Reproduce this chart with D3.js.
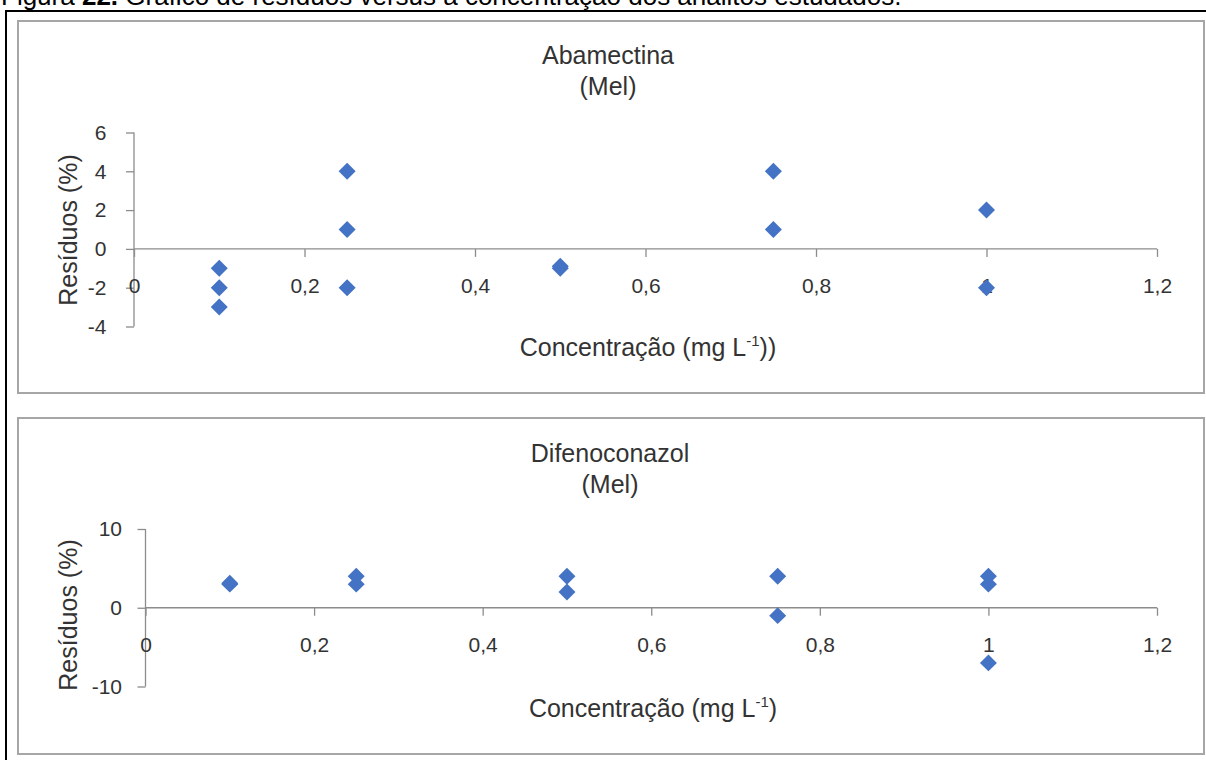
<!DOCTYPE html>
<html>
<head>
<meta charset="utf-8">
<script src="https://cdn.jsdelivr.net/npm/d3@7"></script>
<style>
  html, body { margin: 0; padding: 0; background: #fff; }
  svg { display: block; font-family: "Liberation Sans", Arial, sans-serif; }
</style>
</head>
<body>
<svg id="chart" width="1206" height="760"></svg>
<script>
// ---- data ----
const captionLead = "Figura ";
const captionNum = "22.";
const captionRest = " Gráfico de resíduos versus a concentração dos analitos estudados.";

const abaTitle = ["Abamectina", "(Mel)"];
const abaConc = [0.1, 0.1, 0.1, 0.25, 0.25, 0.25, 0.5, 0.5, 0.75, 0.75, 1, 1];
const abaResid = [-1, -2, -3, 4, 1, -2, -1, -0.9, 4, 1, 2, -2];
const abaYTicks = [-4, -2, 0, 2, 4, 6];
const abaXTitle = ["Concentração (mg L", "-1", "))"];

const difTitle = ["Difenoconazol", "(Mel)"];
const difConc = [0.1, 0.1, 0.25, 0.25, 0.5, 0.5, 0.75, 0.75, 1, 1, 1];
const difResid = [3, 3.1, 4, 3, 4, 2, 4, -1, 4, 3, -7];
const difYTicks = [-10, 0, 10];
const difXTitle = ["Concentração (mg L", "-1", ")"];

const xTicks = [0, 0.2, 0.4, 0.6, 0.8, 1, 1.2];
const yTitle = "Resíduos (%)";

// ---- drawing ----
const svg = d3.select("#chart");
const loc = d3.formatLocale({decimal: ",", thousands: ".", grouping: [3], currency: ["", ""], minus: "-"});
const fmt = loc.format("~g");
const textColor = "#333";
const axisColor = "#8c8c8c";
const markColor = "#4472C4";

// caption (partially cut at top, as in the reference)
const cap = svg.append("text").attr("x", 1).attr("y", 5)
  .attr("font-size", 26).attr("fill", "#000");
cap.append("tspan").text(captionLead);
cap.append("tspan").attr("font-weight", "bold").text(captionNum);
cap.append("tspan").text(captionRest);

// outer black frame (left + top)
svg.append("path").attr("d", "M6,760 V11 H1206")
  .attr("fill", "none").attr("stroke", "#000").attr("stroke-width", 2);

function panel(cfg) {
  const g = svg.append("g");
  g.append("rect").attr("x", cfg.box[0]).attr("y", cfg.box[1])
    .attr("width", cfg.box[2] - cfg.box[0]).attr("height", cfg.box[3] - cfg.box[1])
    .attr("fill", "#fff").attr("stroke", "#a6a6a6").attr("stroke-width", 2);

  const x = d3.scaleLinear().domain([0, 1.2]).range(cfg.xr);
  const y = d3.scaleLinear().domain(cfg.yd).range(cfg.yr);

  // title
  const t = g.append("text").attr("text-anchor", "middle").attr("font-size", 25).attr("fill", textColor);
  t.append("tspan").attr("x", cfg.titleX).attr("y", cfg.titleY).text(cfg.title[0]);
  t.append("tspan").attr("x", cfg.titleX).attr("y", cfg.titleY + 31).text(cfg.title[1]);

  // y axis
  const ya = g.append("g").attr("transform", `translate(${x(0)},0)`)
    .call(d3.axisLeft(y).tickValues(cfg.yTicks).tickSize(8).tickPadding(cfg.yPad).tickFormat(fmt));
  // x axis at y=0
  const xa = g.append("g").attr("transform", `translate(0,${y(0)})`)
    .call(d3.axisBottom(x).tickValues(xTicks).tickSize(8).tickPadding(21).tickFormat(fmt));

  [ya, xa].forEach(a => {
    a.select(".domain").attr("stroke", axisColor).attr("stroke-width", 1.3);
    a.selectAll(".tick line").attr("stroke", axisColor).attr("stroke-width", 1.3);
    a.selectAll(".tick text").attr("fill", textColor).attr("font-size", 21)
      .attr("font-family", "'Liberation Sans', Arial, sans-serif");
  });
  ya.select(".domain").attr("d", `M0,${y(cfg.yd[0])}V${y(cfg.yd[1])}`);
  xa.select(".domain").attr("d", `M${x(0)},0H${x(1.2)}`);

  // y title
  g.append("text").attr("transform", `translate(77,${cfg.yTitleY}) rotate(-90)`)
    .attr("text-anchor", "middle").attr("font-size", 25).attr("fill", textColor).text(yTitle);

  // x title
  const xt = g.append("text").attr("x", cfg.xTitleX).attr("y", cfg.xTitleY)
    .attr("text-anchor", "middle").attr("font-size", 25).attr("fill", textColor);
  xt.append("tspan").text(cfg.xTitle[0]);
  xt.append("tspan").attr("font-size", 15).attr("dy", -10).text(cfg.xTitle[1]);
  xt.append("tspan").attr("dy", 10).text(cfg.xTitle[2]);

  // markers
  const sym = d3.symbol().type(d3.symbolSquare).size(144);
  g.append("g").selectAll("path").data(cfg.conc.map((c, i) => [c, cfg.resid[i]]))
    .join("path")
    .attr("d", sym)
    .attr("transform", d => `translate(${x(d[0])},${y(d[1])}) rotate(45)`)
    .attr("fill", markColor);
}

panel({
  box: [18, 21, 1204, 393],
  xr: [134, 1157], yd: [-4, 6], yr: [326.5, 132.5],
  yTicks: abaYTicks, yPad: 19.5,
  title: abaTitle, titleX: 608, titleY: 64,
  yTitleY: 230,
  xTitle: abaXTitle, xTitleX: 648, xTitleY: 356,
  conc: abaConc, resid: abaResid
});

panel({
  box: [18, 418, 1204, 754],
  xr: [145.5, 1157], yd: [-10, 10], yr: [686.5, 529],
  yTicks: difYTicks, yPad: 15.5,
  title: difTitle, titleX: 610, titleY: 462,
  yTitleY: 615,
  xTitle: difXTitle, xTitleX: 653, xTitleY: 717,
  conc: difConc, resid: difResid
});
</script>
</body>
</html>
